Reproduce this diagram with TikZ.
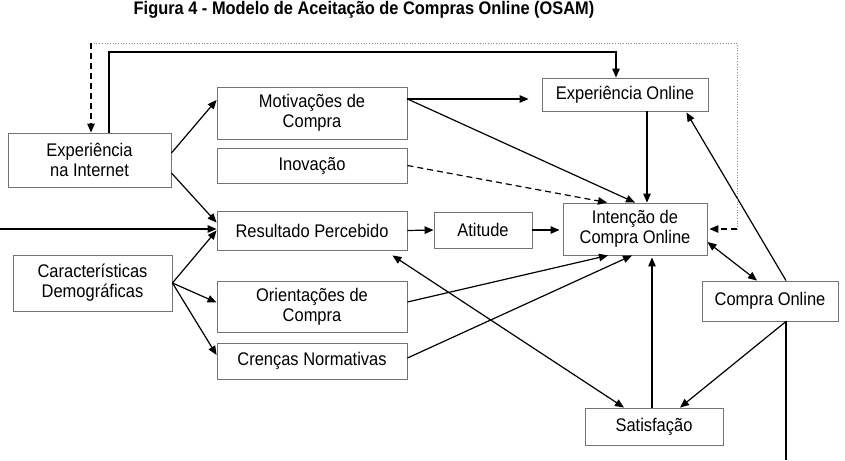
\documentclass[tikz,border=0pt]{standalone}
\usepackage{fontspec}
\setmainfont{Liberation Sans}[FakeStretch=0.9]
\usetikzlibrary{arrows.meta}

\begin{document}
\begin{tikzpicture}[x=1pt,y=-1pt,
   caixa/.style={draw=black!55,line width=0.9pt,fill=white,align=center,inner sep=0pt,
                 font=\fontsize{18.3}{20}\selectfont},
   seta/.style={line width=1.2pt,-{Triangle[length=9pt,width=7.5pt]}},
   dupla/.style={line width=1.2pt,{Triangle[length=9pt,width=7.5pt]}-{Triangle[length=9pt,width=7.5pt]}},
   tracejada/.style={seta,dash pattern=on 6pt off 4pt},
   pontilhada/.style={draw=black!45,line width=0.7pt,dotted}]

  \useasboundingbox[fill=white] (0,0) rectangle (845,460);

  % titulo
  \node[anchor=base,font=\bfseries\fontsize{18.2}{20}\selectfont] (titulo) at (364,14.5)
    {Figura 4 - Modelo de Aceitação de Compras Online (OSAM)};

  % --- caixas ---
  \node[caixa,minimum width=163,minimum height=54] (expint)   at (89.5,160)  {Experiência\\na Internet};
  \node[caixa,minimum width=159,minimum height=56] (carac)    at (92.5,283)  {Características\\Demográficas};
  \node[caixa,minimum width=190,minimum height=52] (motiv)    at (312,113)   {Motivações de\\Compra};
  \node[caixa,minimum width=190,minimum height=35] (inov)     at (312,165.5) {Inovação};
  \node[caixa,minimum width=190,minimum height=39] (result)   at (312,230.5) {Resultado Percebido};
  \node[caixa,minimum width=190,minimum height=51] (orient)   at (312,306.5) {Orientações de\\Compra};
  \node[caixa,minimum width=190,minimum height=36] (crencas)  at (312,361)   {Crenças Normativas};
  \node[caixa,minimum width=98,minimum height=36]  (atitude)  at (483,230)   {Atitude};
  \node[caixa,minimum width=166,minimum height=33] (expon)    at (625,94.5)  {Experiência Online};
  \node[caixa,minimum width=144,minimum height=52] (intencao) at (635,229)   {Intenção de\\Compra Online};
  \node[caixa,minimum width=136,minimum height=40] (compra)   at (770,301)   {Compra Online};
  \node[caixa,minimum width=138,minimum height=37] (satisf)   at (654,426.5) {Satisfação};

  % pontos auxiliares
  \coordinate (entrada) at (0,229);
  \coordinate (saida)   at (786,460);
  \coordinate (topo)    at (0,52);
  \coordinate (fesq)    at (91,43);
  \coordinate (fdir)    at (737,43);
  \coordinate (mo) at ([yshift=14]motiv.east);
  \coordinate (eo) at ([xshift=22]expon.south);
  \coordinate (sa) at ([xshift=-2]satisf.north);
  \coordinate (ei) at ([xshift=19.5]expint.north);
  \coordinate (en) at ([xshift=-9]expon.north);
  \coordinate (co) at ([xshift=16]compra.south);

  % --- antecedentes ---
  \draw[seta] ([yshift=7]expint.east) -- ([yshift=13]motiv.west);
  \draw[seta] ([yshift=-13]expint.east) -- ([yshift=8]result.west);
  \draw[seta] (entrada) -- (entrada -| result.west);
  \draw[seta] (carac.east) -- (result.west);
  \draw[seta] (carac.east) -- ([yshift=4]orient.west);
  \draw[seta] (carac.east) -- ([yshift=6]crencas.west);

  % --- para a intencao ---
  \draw[seta,shorten >=13pt] (mo) -- (mo -| expon.west);
  \draw[seta] (mo) -- (intencao.north);
  \draw[tracejada] (inov.east) -- ([xshift=-28]intencao.north);
  \draw[seta] (eo) -- (eo |- intencao.north);
  \draw[seta] (result.east) -- (atitude.west);
  \draw[seta,shorten >=3pt] (atitude.east) -- (atitude.east -| intencao.west);
  \draw[seta] ([yshift=4.5]orient.east) -- ([xshift=-27]intencao.south);
  \draw[seta] ([yshift=3]crencas.east) -- ([xshift=-3]intencao.south);
  \draw[seta,shorten >=2pt] (sa) -- (sa |- intencao.south);

  % --- compra e satisfacao ---
  \draw[dupla] ([xshift=-15,yshift=-5]result.south east) -- ([xshift=-30]satisf.north);
  \draw[dupla] ([yshift=-13]intencao.east) -- ([xshift=-13]compra.north);
  \draw[seta] ([xshift=16]compra.north) -- ([xshift=-22,yshift=-1]expon.south east);
  \draw[seta] (co) -- ([xshift=26]satisf.north);
  \draw[line width=1.2pt] (co) -- (saida);

  % --- realimentacao ---
  \draw[seta] (ei) -- (ei |- topo) -- (en |- topo) -- (en);
  \draw[pontilhada] (fesq) -- (fdir) -- (fdir |- intencao.east);
  \draw[tracejada] (fesq) -- (fesq |- expint.north);
  \draw[tracejada,shorten >=2pt] (fdir |- intencao.east) -- (intencao.east);
\end{tikzpicture}
\end{document}
